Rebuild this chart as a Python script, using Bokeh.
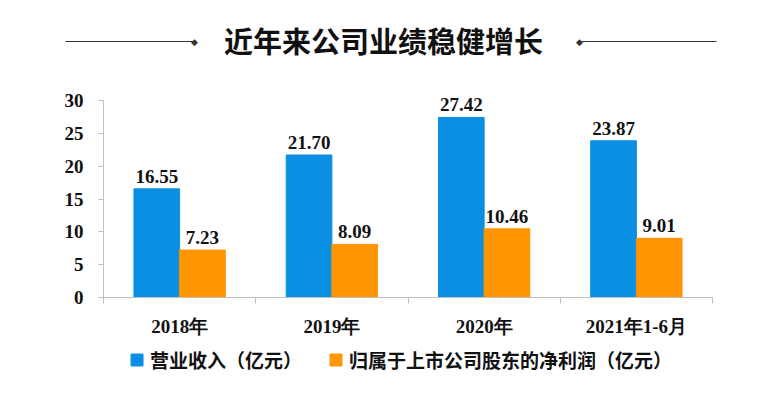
from bokeh.plotting import figure
from bokeh.models import (ColumnDataSource, LabelSet, Label, Range1d, FixedTicker, Legend, LegendItem, Arrow)
from bokeh.embed import file_html
from bokeh.resources import INLINE
from bokeh.core.properties import value

# ---- data ----
categories = ["2018年", "2019年", "2020年", "2021年1-6月"]
revenue = [16.55, 21.70, 27.42, 23.87]
net_profit = [7.23, 8.09, 10.46, 9.01]
revenue_labels = ["16.55", "21.70", "27.42", "23.87"]
profit_labels = ["7.23", "8.09", "10.46", "9.01"]
series_names = ["营业收入（亿元）", "归属于上市公司股东的净利润（亿元）"]
title_text = "近年来公司业绩稳健增长"
y_ticks = [0, 5, 10, 15, 20, 25, 30]
y_max = 30

BLUE = "#0B8FE3"
ORANGE = "#FF9500"
AXIS = "#BFBFBF"
SERIF = "Liberation Serif"
CJK = "Noto Sans CJK SC"

# canvas / plot-area geometry (pixels, canvas = whole figure)
W, H = 776, 393
PL, PR, PT, PB = 103, 712, 100, 297   # plot area edges inside canvas (from left / from top)

n = len(categories)
xs_per_px = n / (PR - PL)
ys_per_px = y_max / (PB - PT)
x_range = Range1d(-PL * xs_per_px, n + (W - PR) * xs_per_px)
y_range = Range1d(-(H - PB) * ys_per_px, y_max + PT * ys_per_px)

centers = [i + 0.5 for i in range(n)]
bw = 0.30
src = ColumnDataSource(dict(
    xb=[c - bw / 2 for c in centers], xo=[c + bw / 2 for c in centers],
    rev=revenue, prof=net_profit, rl=revenue_labels, pl=profit_labels))

p = figure(width=W, height=H, x_range=x_range, y_range=y_range,
           output_backend="svg", toolbar_location=None,
           min_border_left=0, min_border_right=0, min_border_top=0, min_border_bottom=0)
p.outline_line_color = None
p.grid.visible = False

rb = p.vbar(x="xb", top="rev", width=bw, source=src, color=BLUE)
ro = p.vbar(x="xo", top="prof", width=bw, source=src, color=ORANGE)

for col, lab, top in (("xb", "rl", "rev"), ("xo", "pl", "prof")):
    p.add_layout(LabelSet(x=col, y=top, text=lab, source=src, text_align="center",
                          text_baseline="bottom", y_offset=6, text_font=value(SERIF),
                          text_font_style="bold", text_font_size="19px", text_color="#111111"))

# y axis (fixed at x=0, bounded to 0..30)
p.yaxis.fixed_location = 0
p.yaxis.bounds = (0, y_max)
p.yaxis.ticker = FixedTicker(ticks=y_ticks)
p.yaxis.axis_line_color = AXIS
p.yaxis.major_tick_line_color = AXIS
p.yaxis.major_tick_out = 5
p.yaxis.major_tick_in = 0
p.yaxis.minor_tick_line_color = None
p.yaxis.major_label_text_font = SERIF
p.yaxis.major_label_text_font_style = "bold"
p.yaxis.major_label_text_font_size = "19px"
p.yaxis.major_label_text_color = "#111111"
p.yaxis.major_label_standoff = 15

# x axis: labels at centers, tick marks at boundaries
p.xaxis.fixed_location = 0
p.xaxis.bounds = (0, n)
p.xaxis.ticker = FixedTicker(ticks=centers, minor_ticks=list(range(n + 1)))
p.xaxis.major_label_overrides = {c: name for c, name in zip(centers, categories)}
p.xaxis.axis_line_color = AXIS
p.xaxis.major_tick_line_color = None
p.xaxis.major_tick_out = 0
p.xaxis.major_tick_in = 0
p.xaxis.minor_tick_line_color = AXIS
p.xaxis.minor_tick_out = 6
p.xaxis.minor_tick_in = 0
p.xaxis.major_label_text_font = SERIF
p.xaxis.major_label_text_font_style = "bold"
p.xaxis.major_label_text_font_size = "19px"
p.xaxis.major_label_text_color = "#111111"
p.xaxis.major_label_standoff = 12

# ---- title with decorative rules (screen units, origin bottom-left of canvas) ----
p.add_layout(Label(x=383, y=354, x_units="screen", y_units="screen", text=title_text,
                   text_font=CJK, text_font_style="bold", text_font_size="29px",
                   text_align="center", text_baseline="middle", text_color="#111111"))
for xs, xe in ((65, 194), (579, 716)):
    p.add_layout(Arrow(x_start=xs, y_start=352, x_end=xe, y_end=352, start_units="screen",
                       end_units="screen", end=None, line_color="#333333", line_width=1.2))
for xd in (194, 579):
    p.add_layout(Label(x=xd, y=352, x_units="screen", y_units="screen", text="◆",
                       text_font="DejaVu Sans", text_font_size="9px", text_align="center",
                       text_baseline="middle", text_color="#333333"))

legend = Legend(items=[LegendItem(label=series_names[0], renderers=[rb]),
                       LegendItem(label=series_names[1], renderers=[ro])],
                orientation="horizontal", location=(129, 20), padding=0, margin=0,
                spacing=26, glyph_width=15, glyph_height=15, label_standoff=6,
                label_text_font=CJK, label_text_font_style="bold", label_text_font_size="19px",
                label_text_color="#111111", border_line_color=None, background_fill_alpha=0)
p.add_layout(legend)

open("out.html", "w").write(file_html(p, INLINE))
